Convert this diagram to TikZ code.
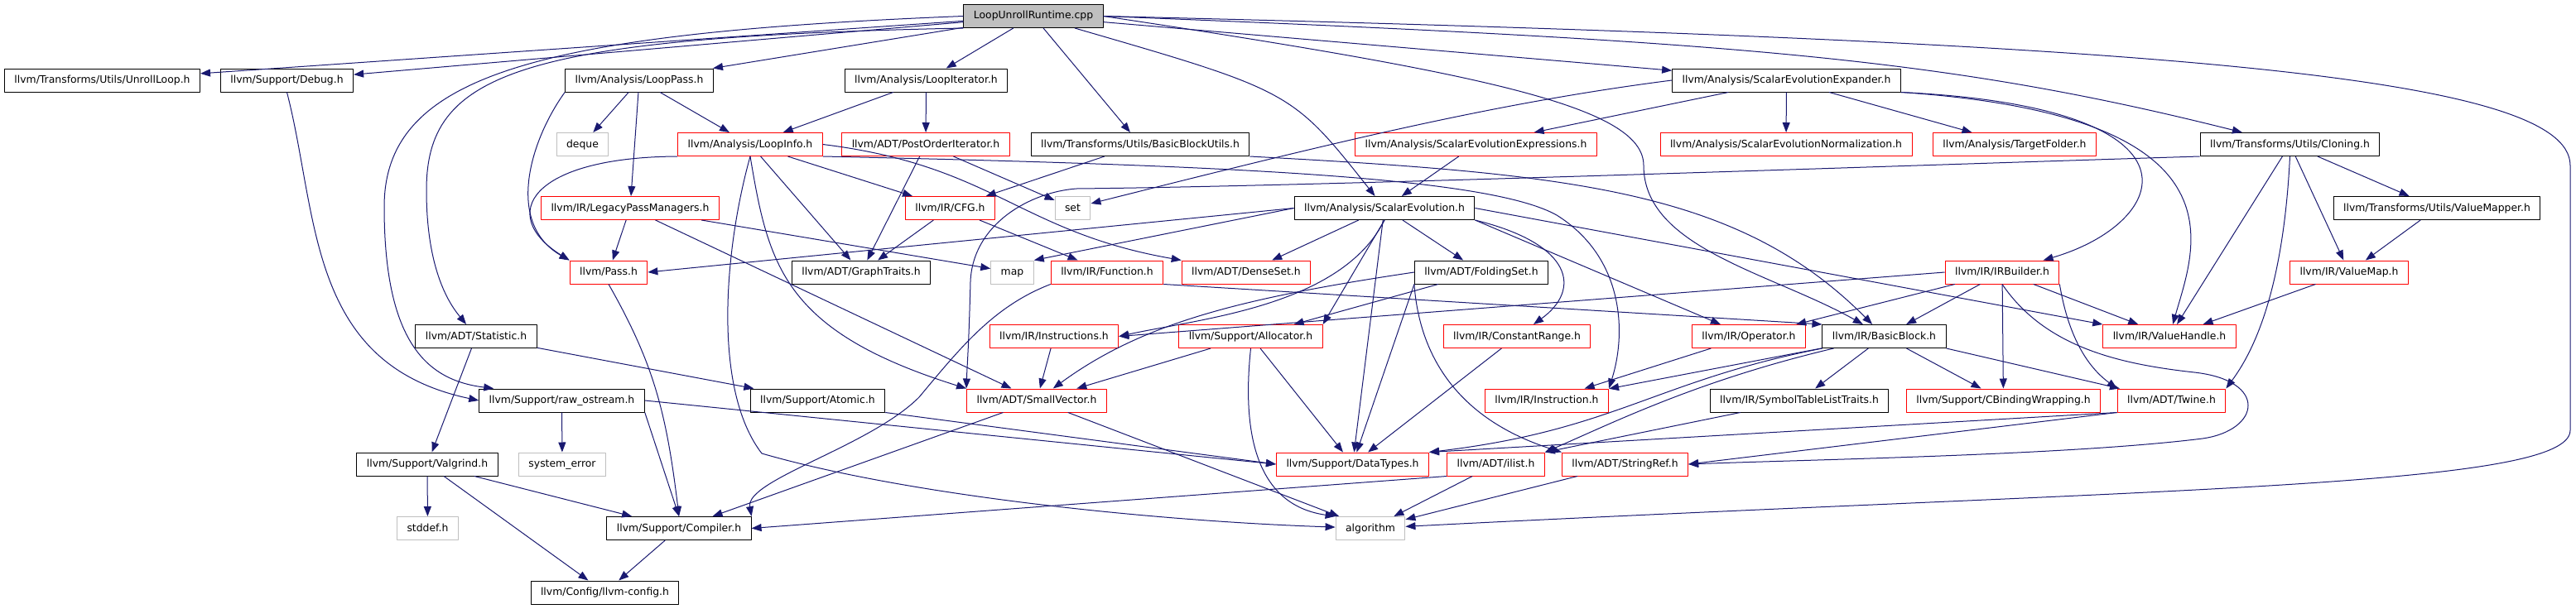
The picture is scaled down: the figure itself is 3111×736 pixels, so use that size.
\documentclass[tikz,border=0pt]{standalone}
\usepackage{fontspec}
\setmainfont{DejaVu Sans}
\usetikzlibrary{arrows.meta}
\definecolor{edgeblue}{HTML}{191970}
\definecolor{boxgrey}{HTML}{BFBFBF}

\begin{document}
\begin{tikzpicture}[x=1pt, y=-1pt, line join=round,
    hdr/.style={draw=black, line width=1pt, fill=white, minimum height=28pt,
      inner xsep=12pt, inner ysep=0pt, text height=9.5pt, text depth=2.5pt,
      font=\fontsize{12.4}{15}\selectfont},
    trunc/.style={hdr, draw=red},
    sysh/.style={hdr, draw=boxgrey},
    root/.style={hdr, fill=boxgrey},
    dep/.style={draw=edgeblue, line width=1pt, -{Triangle[length=12pt,width=9pt]}}]

  %% ════ 第 0–2 层 ════
  \node[root]  (lur)      at (1248,19.5)   {LoopUnrollRuntime.cpp};
  \node[hdr]   (unroll)   at (123.5,97)    {llvm/Transforms/Utils/UnrollLoop.h};
  \node[hdr]   (debug)    at (346.5,97)    {llvm/Support/Debug.h};
  \node[hdr]   (looppass) at (772,97)      {llvm/Analysis/LoopPass.h};
  \node[hdr]   (loopiter) at (1118.5,97)   {llvm/Analysis/LoopIterator.h};
  \node[hdr]   (sceexp)   at (2157.5,97)   {llvm/Analysis/ScalarEvolutionExpander.h};
  \node[sysh]  (deque)    at (703.5,174.5) {deque};
  \node[trunc] (loopinfo) at (906,174.5)   {llvm/Analysis/LoopInfo.h};
  \node[trunc] (poi)      at (1118,174.5)  {llvm/ADT/PostOrderIterator.h};
  \node[hdr]   (bbu)      at (1377,174.5)  {llvm/Transforms/Utils/BasicBlockUtils.h};
  \node[trunc] (sceexpr)  at (1782.5,174.5) {llvm/Analysis/ScalarEvolutionExpressions.h};
  \node[trunc] (scenorm)  at (2157,174.5)  {llvm/Analysis/ScalarEvolutionNormalization.h};
  \node[trunc] (tfold)    at (2433,174.5)  {llvm/Analysis/TargetFolder.h};
  \node[hdr]   (cloning)  at (2765.5,174.5) {llvm/Transforms/Utils/Cloning.h};

  %% ════ 第 3–4 层 ════
  \node[trunc] (lpm)      at (761,251.5)   {llvm/IR/LegacyPassManagers.h};
  \node[trunc] (cfg)      at (1147.5,251.5) {llvm/IR/CFG.h};
  \node[sysh]  (set)      at (1295.5,251.5) {set};
  \node[hdr]   (sce)      at (1672,251.5)  {llvm/Analysis/ScalarEvolution.h};
  \node[hdr]   (vmapper)  at (2943,251.5)  {llvm/Transforms/Utils/ValueMapper.h};
  \node[trunc] (pass)     at (735,329)     {llvm/Pass.h};
  \node[hdr]   (gtraits)  at (1040,329)    {llvm/ADT/GraphTraits.h};
  \node[sysh]  (map)      at (1222.5,329)  {map};
  \node[trunc] (function) at (1337,329)    {llvm/IR/Function.h};
  \node[trunc] (denseset) at (1505,329)    {llvm/ADT/DenseSet.h};
  \node[hdr]   (folding)  at (1789,329)    {llvm/ADT/FoldingSet.h};
  \node[trunc] (irbuilder) at (2418,329)   {llvm/IR/IRBuilder.h};
  \node[trunc] (valuemap) at (2837,329)    {llvm/IR/ValueMap.h};

  %% ════ 第 5–6 层 ════
  \node[hdr]   (statistic) at (575,406.5)  {llvm/ADT/Statistic.h};
  \node[trunc] (instructions) at (1273,406.5) {llvm/IR/Instructions.h};
  \node[trunc] (allocator) at (1510.5,406.5) {llvm/Support/Allocator.h};
  \node[trunc] (crange)   at (1832,406.5)  {llvm/IR/ConstantRange.h};
  \node[trunc] (operator) at (2112,406.5)  {llvm/IR/Operator.h};
  \node[hdr]   (bblock)   at (2275.5,406.5) {llvm/IR/BasicBlock.h};
  \node[trunc] (vhandle)  at (2620,406.5)  {llvm/IR/ValueHandle.h};
  \node[hdr]   (rawos)    at (678.5,484)   {llvm/Support/raw\_ostream.h};
  \node[hdr]   (atomic)   at (987.5,484)   {llvm/Support/Atomic.h};
  \node[trunc] (smallvec) at (1252,484)    {llvm/ADT/SmallVector.h};
  \node[trunc] (instruction) at (1868,484) {llvm/IR/Instruction.h};
  \node[hdr]   (symtab)   at (2173,484)    {llvm/IR/SymbolTableListTraits.h};
  \node[trunc] (cbind)    at (2419.5,484)  {llvm/Support/CBindingWrapping.h};
  \node[trunc] (twine)    at (2622.5,484)  {llvm/ADT/Twine.h};

  %% ════ 第 7–9 层 ════
  \node[hdr]   (valgrind) at (516,561)     {llvm/Support/Valgrind.h};
  \node[sysh]  (syserr)   at (679,561)     {system\_error};
  \node[trunc] (datatypes) at (1633.5,561) {llvm/Support/DataTypes.h};
  \node[trunc] (ilist)    at (1806.5,561)  {llvm/ADT/ilist.h};
  \node[trunc] (stringref) at (1962.5,561) {llvm/ADT/StringRef.h};
  \node[sysh]  (stddef)   at (516.5,638.5) {stddef.h};
  \node[hdr]   (compiler) at (820,638.5)   {llvm/Support/Compiler.h};
  \node[sysh]  (algorithm) at (1655,638.5) {algorithm};
  \node[hdr]   (config)   at (730.5,716)   {llvm/Config/llvm-config.h};

  %% ════ LoopUnrollRuntime.cpp 的边 ════
  \draw[dep] (lur) -- (unroll);
  \draw[dep] (lur) -- (debug);
  \draw[dep] (lur.west) .. controls (650,40) and (464,90) .. (464,250) .. controls (464,420) and (520,460) .. (rawos.170);
  \draw[dep] (lur.south west) .. controls (620,45) and (515,90) .. (515,230) .. controls (515,330) and (545,370) .. (statistic);
  \draw[dep] (lur) -- (looppass);
  \draw[dep] (lur) -- (loopiter);
  \draw[dep] (lur) -- (bbu);
  \draw[dep] (lur) .. controls (1560,110) .. (sce);
  \draw[dep] (lur.east) .. controls (1800,90) and (1985,130) .. (1985,200) .. controls (1985,300) and (2140,330) .. (bblock);
  \draw[dep] (lur) -- (sceexp);
  \draw[dep] (lur.east) .. controls (2100,50) and (2350,70) .. (cloning);
  \draw[dep] (lur.east) .. controls (2600,50) and (3104,90) .. (3104,200) -- (3104,520) .. controls (3104,590) and (2600,590) .. (algorithm);

  %% ════ 第 1 层的边 ════
  \draw[dep] (debug.south) .. controls (385,260) and (370,440) .. (rawos.west);
  \draw[dep] (looppass) -- (deque);
  \draw[dep] (looppass) -- (loopinfo);
  \draw[dep] (looppass) -- (lpm);
  \draw[dep] (looppass.south west) .. controls (640,170) and (610,270) .. (pass.north west);
  \draw[dep] (loopiter) -- (loopinfo);
  \draw[dep] (loopiter) -- (poi);
  \draw[dep] (sceexp) -- (sceexpr);
  \draw[dep] (sceexp) -- (scenorm);
  \draw[dep] (sceexp) -- (tfold);
  \draw[dep] (sceexp.west) .. controls (1800,125) and (1600,175) .. (set);
  \draw[dep] (sceexp.south east) .. controls (2680,130) and (2620,270) .. (irbuilder);
  \draw[dep] (sceexp.south east) .. controls (2720,140) and (2650,300) .. (vhandle);

  %% ════ 第 2 层的边 ════
  \draw[dep] (loopinfo.south west) .. controls (640,190) and (600,260) .. (pass.north west);
  \draw[dep] (loopinfo) -- (cfg);
  \draw[dep] (loopinfo) -- (gtraits);
  \draw[dep] (loopinfo.east) .. controls (1200,200) and (1230,280) .. (denseset.north west);
  \draw[dep] (loopinfo.south) .. controls (928,320) and (945,400) .. (smallvec.north west);
  \draw[dep] (loopinfo.south) .. controls (875,300) and (860,470) .. (920,548) .. controls (1100,600) and (1400,630) .. (algorithm);
  \draw[dep] (loopinfo.south east) .. controls (1500,200) and (1800,215) .. (1880,260) .. controls (1960,310) and (1965,400) .. (instruction.north east);
  \draw[dep] (poi) -- (gtraits);
  \draw[dep] (poi) -- (set);
  \draw[dep] (bbu) -- (cfg);
  \draw[dep] (bbu.south east) .. controls (1900,210) and (2100,230) .. (bblock);
  \draw[dep] (sceexpr) -- (sce);
  \draw[dep] (cloning) -- (vmapper);
  \draw[dep] (cloning) -- (valuemap);
  \draw[dep] (cloning) -- (vhandle);
  \draw[dep] (cloning.south) .. controls (2760,300) and (2740,400) .. (twine.north east);
  \draw[dep] (cloning.south west) .. controls (2300,200) and (1600,225) .. (1300,228) .. controls (1245,232) and (1175,270) .. (1172,340) .. controls (1170,420) and (1168,440) .. (smallvec.north west);

  %% ════ 第 3 层的边 ════
  \draw[dep] (lpm) -- (pass);
  \draw[dep] (lpm) -- (map);
  \draw[dep] (lpm) -- (smallvec);
  \draw[dep] (cfg) -- (gtraits);
  \draw[dep] (cfg) -- (function);
  \draw[dep] (sce.west) -- (pass.east);
  \draw[dep] (sce.west) -- (map.north east);
  \draw[dep] (sce) -- (denseset);
  \draw[dep] (sce) -- (folding);
  \draw[dep] (sce.east) -- (vhandle.north west);
  \draw[dep] (sce.south) -- (allocator.north east);
  \draw[dep] (sce.south) .. controls (1620,370) and (1450,385) .. (instructions.east);
  \draw[dep] (sce.south east) .. controls (1900,295) and (1910,350) .. (crange);
  \draw[dep] (sce.south east) -- (operator);
  \draw[dep] (sce) -- (datatypes);
  \draw[dep] (vmapper) -- (valuemap);

  %% ════ 第 4 层的边 ════
  \draw[dep] (pass.south) .. controls (790,440) and (805,500) .. (compiler.north);
  \draw[dep] (function.south west) .. controls (1200,370) and (1160,420) .. (1110,480) .. controls (1050,540) and (900,580) .. (compiler.north east);
  \draw[dep] (function.south east) -- (bblock.north west);
  \draw[dep] (folding.west) .. controls (1500,360) and (1380,390) .. (smallvec);
  \draw[dep] (folding) -- (allocator);
  \draw[dep] (folding.south west) -- (datatypes);
  \draw[dep] (folding.south west) .. controls (1715,440) and (1770,510) .. (stringref.north west);
  \draw[dep] (irbuilder) -- (bblock);
  \draw[dep] (irbuilder) -- (operator);
  \draw[dep] (irbuilder.west) -- (instructions.east);
  \draw[dep] (irbuilder) -- (vhandle);
  \draw[dep] (irbuilder) -- (cbind);
  \draw[dep] (irbuilder.south east) .. controls (2500,420) and (2530,450) .. (twine.north west);
  \draw[dep] (irbuilder.south) .. controls (2470,420) and (2560,440) .. (2650,450) .. controls (2740,460) and (2730,520) .. (2660,530) .. controls (2500,550) and (2200,555) .. (stringref.east);
  \draw[dep] (valuemap) -- (vhandle);

  %% ════ 第 5 层的边 ════
  \draw[dep] (statistic) -- (valgrind);
  \draw[dep] (statistic) -- (atomic);
  \draw[dep] (instructions) -- (smallvec);
  \draw[dep] (allocator) -- (smallvec);
  \draw[dep] (allocator) -- (datatypes);
  \draw[dep] (allocator.south) .. controls (1500,520) and (1515,610) .. (algorithm.north west);
  \draw[dep] (crange) -- (datatypes);
  \draw[dep] (operator) -- (instruction);
  \draw[dep] (bblock) -- (instruction);
  \draw[dep] (bblock) -- (symtab);
  \draw[dep] (bblock) -- (cbind);
  \draw[dep] (bblock.south east) -- (twine);
  \draw[dep] (bblock) .. controls (2000,460) and (1950,520) .. (datatypes.north east);
  \draw[dep] (bblock) .. controls (2050,460) and (1950,510) .. (ilist.north east);

  %% ════ 第 6–8 层的边 ════
  \draw[dep] (symtab) -- (ilist.north east);
  \draw[dep] (twine.south west) -- (stringref.east);
  \draw[dep] (twine.south west) -- (datatypes.north east);
  \draw[dep] (rawos) -- (syserr);
  \draw[dep] (rawos.south east) -- (compiler.north);
  \draw[dep] (rawos.east) -- (datatypes.west);
  \draw[dep] (atomic.south east) -- (datatypes.west);
  \draw[dep] (smallvec) -- (compiler);
  \draw[dep] (smallvec) -- (algorithm);
  \draw[dep] (valgrind) -- (stddef);
  \draw[dep] (valgrind) -- (compiler);
  \draw[dep] (valgrind) -- (config);
  \draw[dep] (ilist.south west) -- (compiler.east);
  \draw[dep] (ilist) -- (algorithm);
  \draw[dep] (stringref) -- (algorithm);
  \draw[dep] (compiler) -- (config);

  % 钉死画布：与参考图 3111x736 一比一
  \pgfresetboundingbox
  \path[use as bounding box] (0,0) rectangle (3111,736);
\end{tikzpicture}
\end{document}
